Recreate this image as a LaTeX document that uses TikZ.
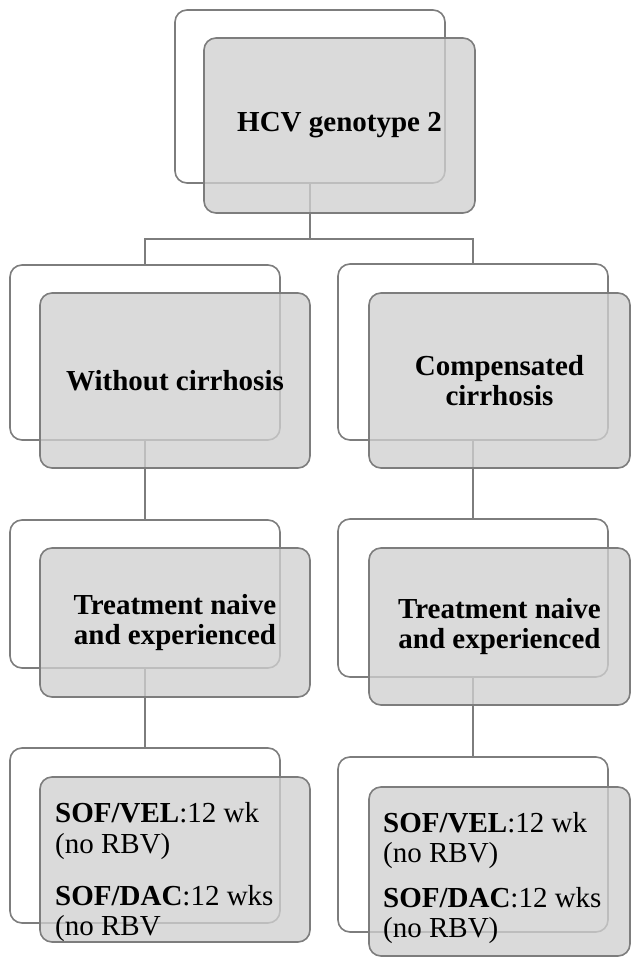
\documentclass[tikz,border=0pt]{standalone}
\usepackage{fontspec}
\setmainfont{Liberation Serif}
\definecolor{edgec}{RGB}{125,125,125}
\definecolor{frontc}{RGB}{208,208,208}
\begin{document}
\begin{tikzpicture}[x=1pt,y=-1pt,
 backbox/.style={draw=edgec, line width=1.6pt, rounded corners=12pt, fill=white, inner sep=0pt, outer sep=0pt},
 frontbox/.style={draw=edgec, line width=1.6pt, rounded corners=12pt, fill=frontc, fill opacity=0.78, text opacity=1, inner sep=0pt, outer sep=0pt, font=\fontsize{29}{30}\selectfont\bfseries, align=center},
 conn/.style={draw=edgec, line width=1.5pt},
 txt/.style={anchor=base west, inner sep=0pt, font=\fontsize{29}{30}\selectfont}]
\useasboundingbox[fill=white] (0,0) rectangle (631,957);
% back boxes
\node[backbox, minimum width=270pt, minimum height=173pt] (topb) at (310,96.5) {};
\node[backbox, minimum width=270pt, minimum height=175pt] (llb2) at (145,352.5) {};
\node[backbox, minimum width=270pt, minimum height=176pt] (rrb2) at (473,352) {};
\node[backbox, minimum width=270pt, minimum height=148pt] (llb3) at (145,594) {};
\node[backbox, minimum width=270pt, minimum height=158pt] (rrb3) at (473,598) {};
\node[backbox, minimum width=270pt, minimum height=175pt] (llb4) at (145,835.5) {};
\node[backbox, minimum width=270pt, minimum height=175pt] (rrb4) at (473,844.5) {};
% connectors
\coordinate (split) at (310,239);
\draw[conn] (topb.south) -- (split);
\draw[conn] (split) -| (llb2.north);
\draw[conn] (split) -| (rrb2.north);
\draw[conn] (llb2.south) -- (llb3.north);
\draw[conn] (llb3.south) -- (llb4.north);
\draw[conn] (rrb2.south) -- (rrb3.north);
\draw[conn] (rrb3.south) -- (rrb4.north);
% front boxes
\node[frontbox, minimum width=271pt, minimum height=175pt] (topf) at (339.5,125.5) {HCV genotype 2};
\node[frontbox, minimum width=270pt, minimum height=175pt] (llf2) at (175,380.5) {Without cirrhosis};
\node[frontbox, minimum width=261pt, minimum height=175pt] (rrf2) at (499.5,380.5) {Compensated\\cirrhosis};
\node[frontbox, minimum width=270pt, minimum height=149pt] (llf3) at (175,622.5) {Treatment naive\\and experienced};
\node[frontbox, minimum width=261pt, minimum height=157pt] (rrf3) at (499.5,626.5) {Treatment naive\\and experienced};
\node[frontbox, minimum width=270pt, minimum height=165pt] (llf4) at (175,859.5) {};
\node[frontbox, minimum width=261pt, minimum height=169pt] (rrf4) at (499.5,871.5) {};
% final texts
\node[txt] (lt1) at (55,822) {\textbf{SOF/VEL}:12 wk};
\node[txt] (lt2) at (55,853) {(no RBV)};
\node[txt] (lt3) at (55,905) {\textbf{SOF/DAC}:12 wks};
\node[txt] (lt4) at (55,935) {(no RBV};
\node[txt] (rt1) at (383,832) {\textbf{SOF/VEL}:12 wk};
\node[txt] (rt2) at (383,862) {(no RBV)};
\node[txt] (rt3) at (383,907) {\textbf{SOF/DAC}:12 wks};
\node[txt] (rt4) at (383,937) {(no RBV)};
\end{tikzpicture}
\end{document}
